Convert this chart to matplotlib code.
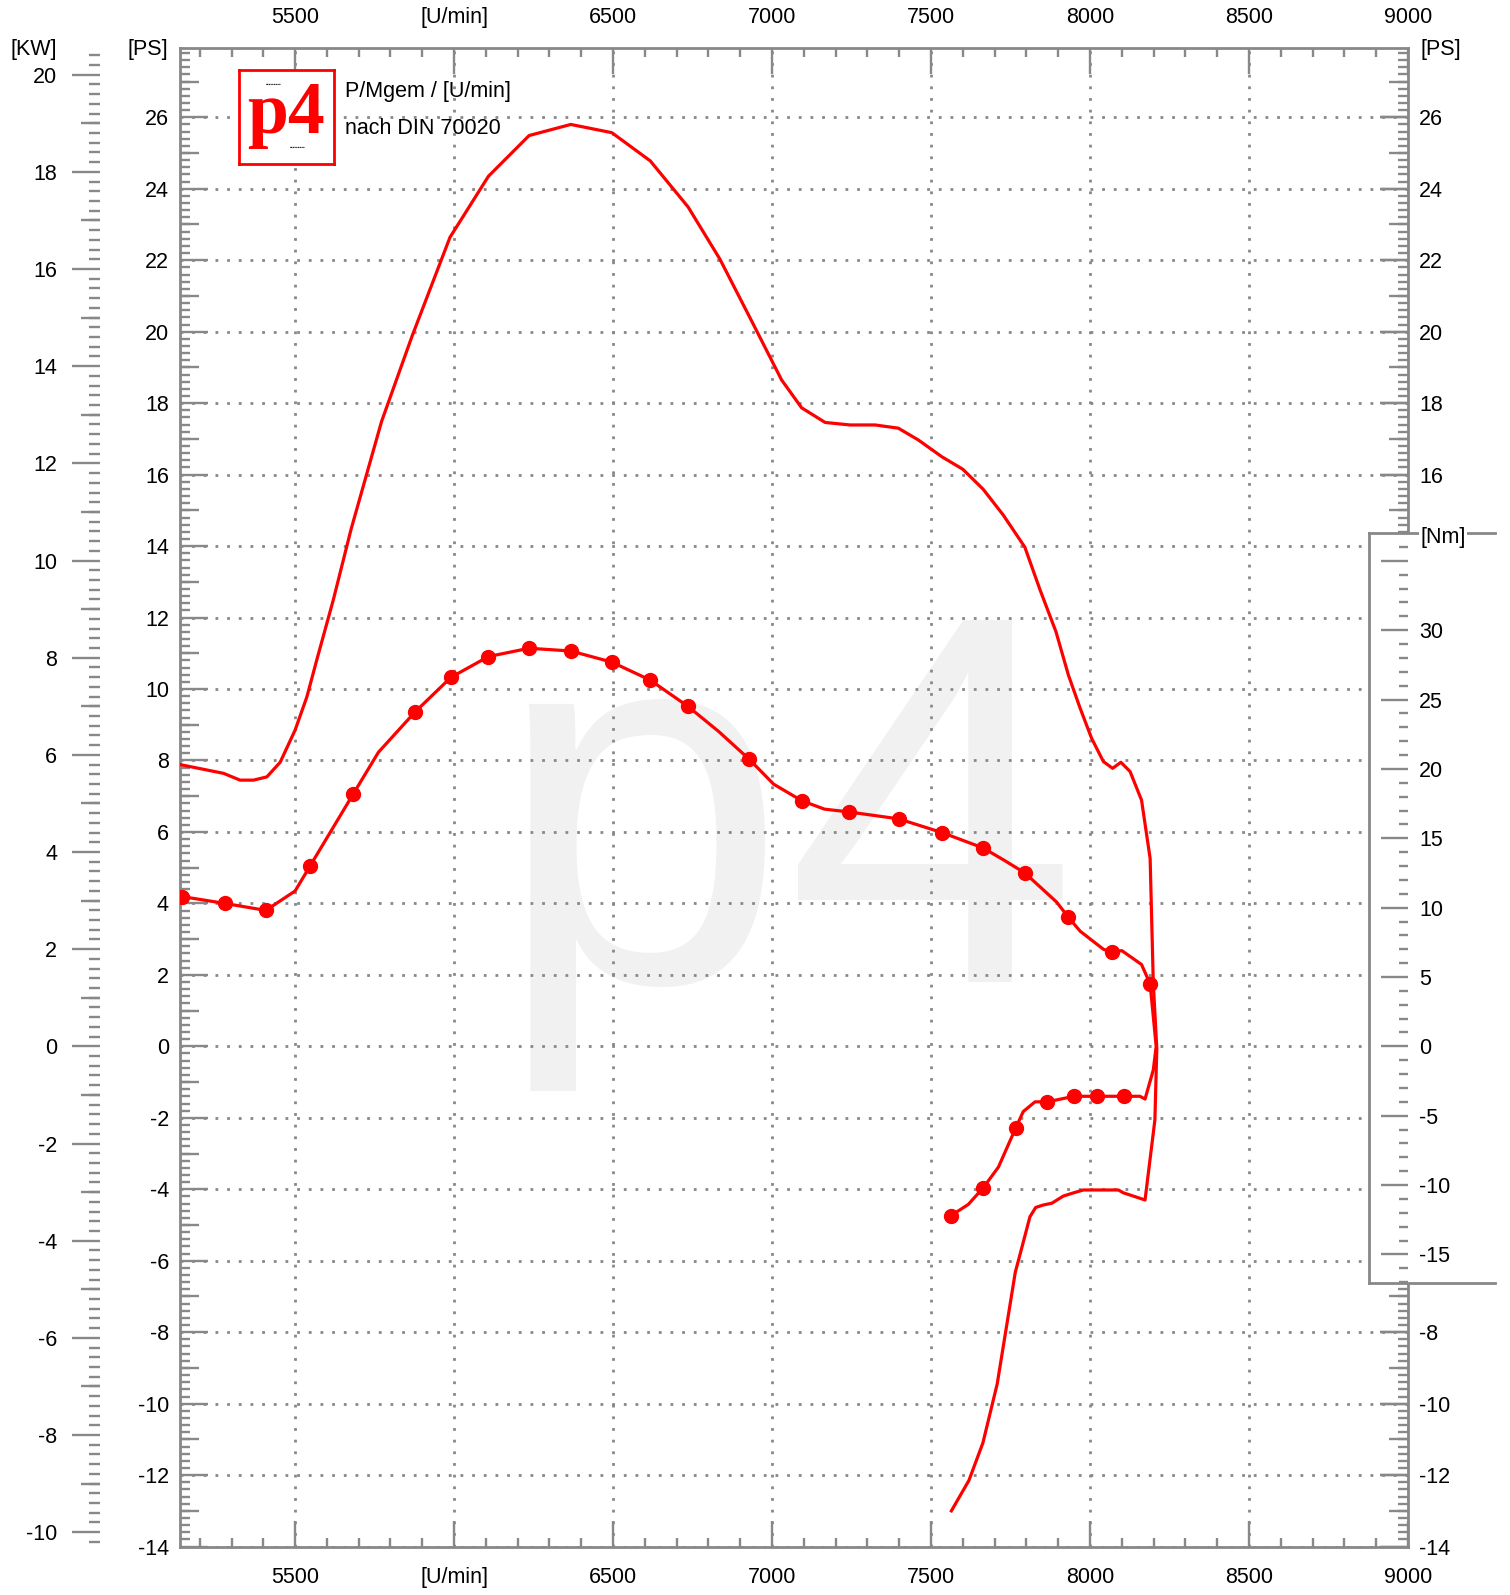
import matplotlib
matplotlib.use('Agg')
import matplotlib.pyplot as plt
from matplotlib.ticker import MultipleLocator, FixedLocator, FixedFormatter, FuncFormatter

plt.rcParams['font.family'] = ['Liberation Sans', 'DejaVu Sans']
plt.rcParams['font.size'] = 15.5
plt.rcParams['axes.unicode_minus'] = False

# power curve in PS: run-up to 8200 U/min, then the coast-down (loss) part
power_rpm = [5141, 5275, 5327, 5369, 5411, 5453, 5500, 5537, 5568, 5620,
             5676, 5772, 5868, 5987, 6108, 6236, 6367, 6496, 6617, 6736,
             6836, 6930, 7030, 7093, 7167, 7245, 7324, 7397, 7460, 7534,
             7600, 7664, 7727, 7795, 7843, 7893, 7932, 7969, 8005, 8042,
             8071, 8097, 8126, 8162, 8189, 8199, 8210, 8204, 8173, 8136,
             8105, 8089, 7979, 7948, 7916, 7880, 7853, 7829, 7811, 7785,
             7765, 7708, 7663, 7619, 7564]
power_ps = [7.88, 7.64, 7.45, 7.45, 7.54, 7.95, 8.85, 9.78, 10.81, 12.49,
            14.47, 17.49, 19.88, 22.64, 24.35, 25.49, 25.80, 25.57, 24.78, 23.49,
            22.03, 20.40, 18.65, 17.87, 17.46, 17.39, 17.39, 17.30, 16.97, 16.50,
            16.15, 15.59, 14.87, 13.97, 12.77, 11.60, 10.39, 9.46, 8.62, 7.97,
            7.78, 7.95, 7.69, 6.89, 5.26, 1.76, -0.06, -2.06, -4.30, -4.19,
            -4.10, -4.02, -4.02, -4.10, -4.19, -4.39, -4.44, -4.51, -4.77, -5.65,
            -6.32, -9.45, -11.10, -12.15, -13.00]

# torque curve in Nm (line)
torque_rpm = [5144, 5280, 5408, 5500, 5547, 5683, 5762, 5877, 5990, 6108,
              6236, 6367, 6496, 6617, 6736, 6832, 6928, 7005, 7094, 7165,
              7241, 7398, 7536, 7664, 7731, 7795, 7895, 7932, 7969, 8042,
              8068, 8100, 8162, 8189, 8208, 8199, 8173, 8157, 8107, 8023,
              7950, 7866, 7827, 7790, 7766, 7712, 7664, 7617, 7563]
torque_nm = [10.8, 10.3, 9.8, 11.2, 13.0, 18.2, 21.2, 24.1, 26.6, 28.1,
             28.7, 28.5, 27.7, 26.4, 24.5, 22.7, 20.7, 18.9, 17.7, 17.1,
             16.9, 16.4, 15.4, 14.3, 13.4, 12.5, 10.4, 9.3, 8.3, 7.0,
             6.8, 6.9, 5.9, 4.5, 0.0, -1.7, -3.8, -3.6, -3.6, -3.6,
             -3.6, -4.0, -4.0, -4.7, -5.9, -8.7, -10.2, -11.4, -12.2]

# measured torque points (markers)
mark_rpm = [5144, 5280, 5408, 5547, 5683, 5877, 5990, 6108, 6236, 6367,
            6496, 6617, 6736, 6928, 7094, 7241, 7398, 7536, 7664, 7795,
            7932, 8068, 8189, 8107, 8023, 7950, 7866, 7766, 7664, 7563]
mark_nm = [10.8, 10.3, 9.8, 13.0, 18.2, 24.1, 26.6, 28.1, 28.7, 28.5,
           27.7, 26.4, 24.5, 20.7, 17.7, 16.9, 16.4, 15.4, 14.3, 12.5,
           9.3, 6.8, 4.5, -3.6, -3.6, -3.6, -4.0, -5.9, -10.2, -12.2]

x_ticks = [5500, 6000, 6500, 7000, 7500, 8000, 8500, 9000]
x_labels = ['5500', '[U/min]', '6500', '7000', '7500', '8000', '8500', '9000']
ps_ticks = list(range(-14, 27, 2))
kw_ticks = list(range(-10, 21, 2))
nm_ticks = [-15, -10, -5, 0, 5, 10, 15, 20, 25, 30, 35]

KW_PER_PS = 0.7355
NM_PER_PS = 2.576

GRAY = '#888888'
RED = '#ff0000'
W, H = 1510, 1595

fig = plt.figure(figsize=(W / 100, H / 100), dpi=100)

# main axes placement in pixels
left_px, right_px, top_px, bot_px = 180, 1408, 47.8, 1546.6
y_lo, y_hi = -14, 27.945
ax_b = 1 - bot_px / H
ax_h = (bot_px - top_px) / H


def yfrac(ps):
    return ax_b + ax_h * (ps - y_lo) / (y_hi - y_lo)


ax = fig.add_axes([left_px / W, ax_b, (right_px - left_px) / W, ax_h])
ax.set_xlim(5138, 9000)
ax.set_ylim(y_lo, y_hi)

# twin axis for torque (Nm), invisible
ax_t = ax.twinx()
ax_t.set_ylim(y_lo * NM_PER_PS, y_hi * NM_PER_PS)
ax_t.axis('off')

for s in ax.spines.values():
    s.set_color(GRAY)
    s.set_linewidth(2)

ax.xaxis.set_major_locator(FixedLocator(x_ticks))
ax.xaxis.set_major_formatter(FixedFormatter(x_labels))
ax.xaxis.set_minor_locator(MultipleLocator(100))
ax.yaxis.set_major_locator(FixedLocator(ps_ticks))
ax.yaxis.set_minor_locator(MultipleLocator(0.2))
ax.tick_params(which='both', direction='in', color=GRAY, width=1.7,
               top=True, bottom=True, left=True, right=True,
               labeltop=True, labelbottom=True, labelleft=True, labelright=False)
ax.tick_params(axis='x', which='major', length=19, pad=14.5)
ax.tick_params(axis='x', which='minor', length=6.5)
ax.tick_params(axis='y', which='major', length=20, pad=8)
ax.tick_params(axis='y', which='minor', length=7)
ax.grid(True, which='major', color=GRAY, linestyle=(0, (1, 3.2)), linewidth=2)

# right PS labels, the part behind the Nm box left out
ps_right = ax.secondary_yaxis('right')
ps_right.set_ticks(ps_ticks)
ps_right.yaxis.set_major_formatter(FuncFormatter(lambda v, p: '' if -7 < v < 15 else f'{v:.0f}'))
ps_right.tick_params(direction='in', length=20, width=1.7, color=GRAY, pad=8)
for s in ps_right.spines.values():
    s.set_visible(False)

# medium ticks at odd PS values, both sides
for side in ('left', 'right'):
    sec = ax.secondary_yaxis(side)
    sec.set_ticks(list(range(-13, 28, 2)))
    sec.tick_params(direction='in', length=14, width=1.7, color=GRAY,
                    labelleft=False, labelright=False)
    for s in sec.spines.values():
        s.set_visible(False)

# KW scale on the far left
kw_loc = (100 - left_px) / (right_px - left_px)
kw_funcs = (lambda p: p * KW_PER_PS, lambda k: k / KW_PER_PS)
kw = ax.secondary_yaxis(kw_loc, functions=kw_funcs)
kw.set_ticks(kw_ticks)
kw.yaxis.set_minor_locator(MultipleLocator(0.2))
kw.tick_params(which='both', direction='out', width=1.7, color=GRAY)
kw.tick_params(which='major', length=20, pad=10.8)
kw.tick_params(which='minor', length=7.9)
for s in kw.spines.values():
    s.set_visible(False)
kw_mid = ax.secondary_yaxis(kw_loc, functions=kw_funcs)
kw_mid.set_ticks(list(range(-9, 20, 2)))
kw_mid.tick_params(direction='out', length=13.7, width=1.7, color=GRAY, labelleft=False)
for s in kw_mid.spines.values():
    s.set_visible(False)

# watermark
ax.text((494 - left_px) / (right_px - left_px), (bot_px - 982) / (bot_px - top_px), 'p4',
        transform=ax.transAxes, fontsize=378, color='#f1f1f1',
        ha='left', va='baseline', zorder=0.2)

# curves
ax.plot(power_rpm, power_ps, color=RED, linewidth=2.3, zorder=3)
ax_t.plot(torque_rpm, torque_nm, color=RED, linewidth=2.3)
ax_t.plot(mark_rpm, mark_nm, 'o', color=RED, markersize=10)

# Nm scale box on the right
box_ps = (-6.633, 14.357)
bx0, bx1 = 1369.3, 1495
ax_box = fig.add_axes([bx0 / W, yfrac(box_ps[0]), (bx1 - bx0) / W,
                       yfrac(box_ps[1]) - yfrac(box_ps[0])], zorder=10)
ax_box.set_facecolor('white')
ax_box.set_ylim(box_ps[0] * NM_PER_PS, box_ps[1] * NM_PER_PS)
ax_box.set_xticks([])
ax_box.spines['right'].set_position(('axes', (right_px - bx0) / (bx1 - bx0)))
ax_box.spines['right'].set_visible(False)
for k in ('left', 'top', 'bottom'):
    ax_box.spines[k].set_color(GRAY)
    ax_box.spines[k].set_linewidth(2)
ax_box.yaxis.tick_right()
ax_box.yaxis.set_major_locator(FixedLocator(nm_ticks))
ax_box.yaxis.set_major_formatter(FuncFormatter(lambda v, p: '' if v > 32 else f'{v:.0f}'))
ax_box.yaxis.set_minor_locator(MultipleLocator(1))
ax_box.tick_params(which='both', direction='in', color=GRAY, width=1.7)
ax_box.tick_params(which='major', length=19.4, pad=8)
ax_box.tick_params(which='minor', length=6.5)
ax_box.text(1420 / W, 1 - 537 / H, '[Nm]', transform=fig.transFigure, ha='left', va='center',
            bbox=dict(facecolor='white', edgecolor='none', pad=1), zorder=5, clip_on=False)

# unit labels
fig.text(57 / W, 1 - 49 / H, '[KW]', ha='right', va='center')
fig.text(168 / W, 1 - 49 / H, '[PS]', ha='right', va='center')
fig.text(1420 / W, 1 - 49 / H, '[PS]', ha='left', va='center')

# logo
ax_logo = fig.add_axes([239 / W, 1 - 164 / H, 95 / W, 94 / H], zorder=11)
ax_logo.set_xticks([])
ax_logo.set_yticks([])
for s in ax_logo.spines.values():
    s.set_color(RED)
    s.set_linewidth(2)
ax_logo.text(0.5, 0.33, 'p4', ha='center', va='baseline', color=RED, fontsize=53,
             fontweight='bold', family='Liberation Serif', transform=ax_logo.transAxes)
ax_logo.text(0.36, 0.85, '▪▪▪▪▪▪▪▪▪', ha='center', va='center', fontsize=3.5,
             color='#222222', transform=ax_logo.transAxes)
ax_logo.text(0.62, 0.18, '▪▪▪▪▪▪▪▪▪', ha='center', va='center', fontsize=3.5,
             color='#222222', transform=ax_logo.transAxes)

fig.text(345 / W, 1 - 92 / H, 'P/Mgem / [U/min]', ha='left', va='center')
fig.text(345 / W, 1 - 129 / H, 'nach DIN 70020', ha='left', va='center')

fig.savefig('out.png', dpi=100)
